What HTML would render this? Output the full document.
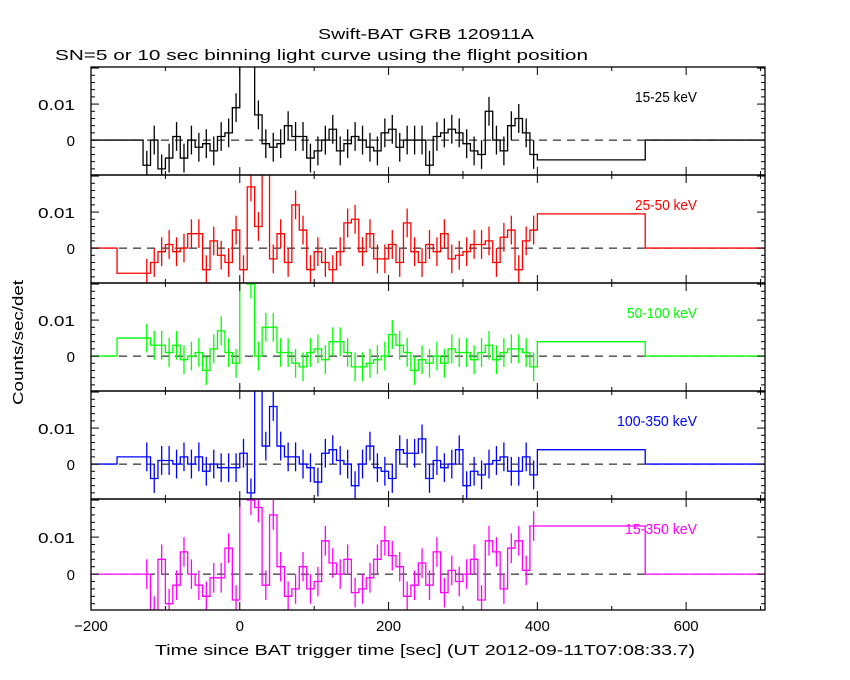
<!DOCTYPE html>
<html><head><meta charset="utf-8"><style>
body{margin:0;background:#fff}
svg{display:block;font-family:"Liberation Sans",sans-serif}
</style></head><body>
<svg id="c" width="850" height="680">
<text x="318" y="39" font-size="15" textLength="216" lengthAdjust="spacingAndGlyphs">Swift-BAT GRB 120911A</text>
<text x="55" y="60" font-size="15" textLength="533" lengthAdjust="spacingAndGlyphs">SN=5 or 10 sec binning light curve using the flight position</text>
<text x="155" y="655" font-size="15" textLength="540" lengthAdjust="spacingAndGlyphs">Time since BAT trigger time [sec] (UT 2012-09-11T07:08:33.7)</text>
<text x="0" y="0" font-size="15" textLength="125" lengthAdjust="spacingAndGlyphs" transform="translate(23 405) rotate(-90)">Counts/sec/det</text>
</svg>
<script>
const bands=["15-25 keV","25-50 keV","50-100 keV","100-350 keV","15-350 keV"];
const colors=["#000","#f00","#0f0","#00f","#f0f"];
const binStart=-130, binWidth=10;
const p1=[-7,0,-8,-5,1,-5,0,-2,-1,-3,1,2,9,30,25,7,-1,-2,-1,4,1,1,-5,-3,0,3,-3,-1,1,0,-2,-3,2,3,-2,0,0,0,-7,1,2,3,2,-1,-3,-4,8,0,-3,4,6,2,-4];
const p2=[-7,-4,-1,1,-1,0,4,4,-6,2,-2,-4,5,-6,17,6,25,-3,4,-4,12,5,-6,-1,-4,-6,-1,7,8,-1,4,-3,-3,1,-4,7,-1,-4,1,-1,4,-3,-2,-1,1,1,2,-4,3,5,-6,2,5];
const p3=[5,3,3,1,3,-1,0,1,-4,2,7,1,-2,25,20,0,8,8,1,1,-2,-3,1,2,-1,4,4,1,-3,-3,-2,-1,0,6,3,1,-4,-1,-2,0,-2,2,1,1,-1,1,3,-1,1,2,2,1,-3];
const p4=[2,-4,1,1,0,2,0,2,-2,0,-1,-1,-1,3,-8,25,5,16,5,2,2,0,-1,-5,3,4,1,0,-6,0,5,-1,-2,-4,4,3,3,7,-4,1,-1,0,4,-6,-2,-3,0,1,2,-2,-2,2,-3];
const p5=[0,-10,4,-8,-3,6,0,-3,-6,-1,-1,7,-7,25,20,18,-3,16,2,-6,-4,2,-4,-2,9,3,0,4,-5,-4,-1,4,9,5,2,-6,-3,3,-3,6,-5,1,-2,0,4,-7,9,6,-4,7,9,1,13];
const preVal=[0,-7,5,2,0];
const postVal=[-5.5,9.5,4,4,13];
const series=[p1,p2,p3,p4,p5];
const xTicks=[-200,0,200,400,600];
const NS="http://www.w3.org/2000/svg";
const svg=document.getElementById('c');
const X0=91,X1=765,T0=-200,T1=706;
const tx=t=>X0+(t-T0)*(X1-X0)/(T1-T0);
const tops=[67,175,283,391,499], bots=[175,283,391,499,610];
const YMIN=-9.7,YMAX=20.3;
function mk(tag,a,p){const e=document.createElementNS(NS,tag);for(const k in a)e.setAttribute(k,a[k]);(p||svg).appendChild(e);return e;}
const defs=mk('defs',{});
for(let i=0;i<5;i++){
  const cp=mk('clipPath',{id:'cp'+i},defs);
  mk('rect',{x:X0,y:tops[i],width:X1-X0,height:bots[i]-tops[i]},cp);
}
for(let i=0;i<5;i++){
  const top=tops[i],bot=bots[i];
  const ty=v=>top+(YMAX-v)*(bot-top)/(YMAX-YMIN);
  const g=mk('g',{});
  
  
  const dg=mk('g',{'clip-path':'url(#cp'+i+')'},g);
  const z=mk('line',{x1:X0,x2:X1,y1:ty(0),y2:ty(0),stroke:'#000','stroke-dasharray':'8,6'},dg);
  
  
  const vals=series[i];
  let d='M'+tx(T0)+' '+ty(preVal[i])+' L'+tx(-130)+' '+ty(preVal[i]);
  if(i!==0){d='M'+tx(T0)+' '+ty(0)+' L'+tx(-165)+' '+ty(0)+' L'+tx(-165)+' '+ty(preVal[i])+' L'+tx(-130)+' '+ty(preVal[i]);}
  for(let k=0;k<vals.length;k++){
    const a=binStart+k*binWidth,b=a+binWidth;
    d+=' L'+tx(a)+' '+ty(vals[k])+' L'+tx(b)+' '+ty(vals[k]);
    const eb=mk('line',{x1:tx(a+binWidth/2),x2:tx(a+binWidth/2),y1:ty(vals[k]-4),y2:ty(vals[k]+4),stroke:colors[i],'stroke-width':1.3},dg);
    
    
  }
  const end=binStart+vals.length*binWidth;
  d+=' L'+tx(end)+' '+ty(postVal[i])+' L'+tx(545)+' '+ty(postVal[i])+' L'+tx(545)+' '+ty(0)+' L'+tx(T1)+' '+ty(0);
  const pth=mk('path',{d:d,fill:'none',stroke:colors[i],'stroke-width':1.3},dg);
  
  
  const fr=mk('rect',{x:X0,y:top,width:X1-X0,height:bot-top,fill:'none',stroke:'#000','stroke-width':1.3},g);
  
  
  for(let t=-200;t<=700;t+=100){
    const L=(t%200===0)?8:4;
    mk('line',{x1:tx(t),x2:tx(t),y1:bot,y2:bot-L,stroke:'#000'},g);
    mk('line',{x1:tx(t),x2:tx(t),y1:top,y2:top+L,stroke:'#000'},g);
  }
  for(let v=-8;v<=20;v+=2){
    const L=(v%10===0)?8:4;
    mk('line',{x1:X0,x2:X0+L,y1:ty(v),y2:ty(v),stroke:'#000'},g);
    mk('line',{x1:X1,x2:X1-L,y1:ty(v),y2:ty(v),stroke:'#000'},g);
  }
  const l1=mk('text',{x:38,y:ty(10)+6,'font-size':15,textLength:37,lengthAdjust:'spacingAndGlyphs'},g);l1.textContent='0.01';
  
  
  const l0=mk('text',{x:75,y:ty(0)+6,'text-anchor':'end','font-size':15},g);l0.textContent='0';
  
  
  const bw=[62,62,70,80,72][i];
  const bl=mk('text',{x:697-bw,y:top+35,'font-size':15,fill:colors[i],textLength:bw,lengthAdjust:'spacingAndGlyphs'},g);bl.textContent=bands[i];
  
  
}
for(const t of xTicks){
  const e=mk('text',{x:tx(t),y:631,'text-anchor':'middle','font-size':15});e.textContent=(t<0?'\u2212'+(-t):t);
  
  
}
</script>
</body></html>
